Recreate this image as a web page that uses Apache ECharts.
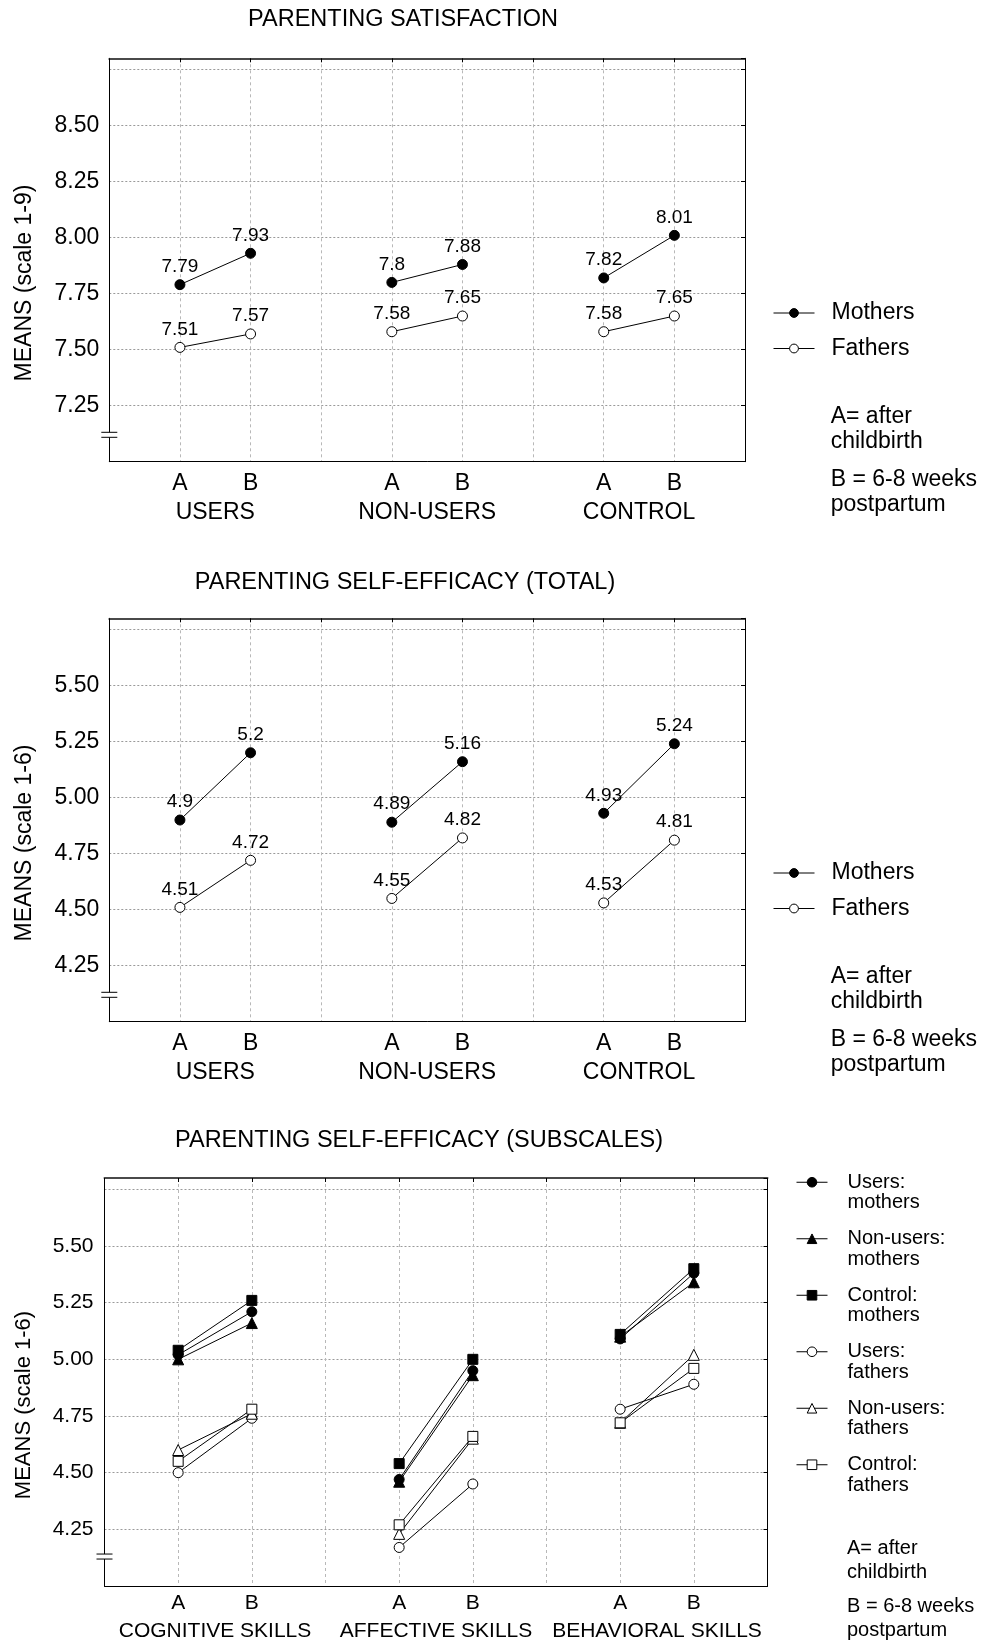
<!DOCTYPE html>
<html>
<head>
<meta charset="utf-8">
<script src="https://cdn.jsdelivr.net/npm/echarts@6/dist/echarts.min.js"></script>
<style>
html,body{margin:0;padding:0;background:#fff;}
#main{width:984px;height:1641px;}
</style>
</head>
<body>
<div id="main"></div>
<script>
// ---------------- DATA ----------------
const xCategories = ['', 'A', 'B', '', 'A', 'B', '', 'A', 'B', ''];
const groupsTop = ['USERS', 'NON-USERS', 'CONTROL'];
const groupsSub = ['COGNITIVE SKILLS', 'AFFECTIVE SKILLS', 'BEHAVIORAL SKILLS'];
const yTickLabelsSat = ['7.25', '7.50', '7.75', '8.00', '8.25', '8.50'];
const yTickLabelsEff = ['4.25', '4.50', '4.75', '5.00', '5.25', '5.50'];
const chartTitles = ['PARENTING SATISFACTION', 'PARENTING SELF-EFFICACY (TOTAL)', 'PARENTING SELF-EFFICACY (SUBSCALES)'];
const yAxisNames = ['MEANS (scale 1-9)', 'MEANS (scale 1-6)', 'MEANS (scale 1-6)'];
const noteA = 'A= after\nchildbirth';
const noteB = 'B = 6-8 weeks\npostpartum';

// values in order: group1 A, group1 B, group2 A, group2 B, group3 A, group3 B
const satMothers = [7.79, 7.93, 7.8, 7.88, 7.82, 8.01];
const satFathers = [7.51, 7.57, 7.58, 7.65, 7.58, 7.65];
const effMothers = [4.9, 5.2, 4.89, 5.16, 4.93, 5.24];
const effFathers = [4.51, 4.72, 4.55, 4.82, 4.53, 4.81];
const subUsersMothers = [5.02, 5.21, 4.47, 4.95, 5.09, 5.38];
const subNonUsersMothers = [5.00, 5.16, 4.46, 4.93, 5.10, 5.34];
const subControlMothers = [5.04, 5.26, 4.54, 5.00, 5.11, 5.40];
const subUsersFathers = [4.50, 4.74, 4.17, 4.45, 4.78, 4.89];
const subNonUsersFathers = [4.60, 4.76, 4.23, 4.65, 4.72, 5.02];
const subControlFathers = [4.55, 4.78, 4.27, 4.66, 4.72, 4.96];

// ---------------- LAYOUT ----------------
const FF = "'Liberation Sans', Arial, Helvetica, sans-serif";
function pad(v) { return [null, v[0], v[1], null, v[2], v[3], null, v[4], v[5], null]; }

const panels = [
  { grid: {left: 109.3, top: 58.3, width: 635.7, height: 403.4}, min: 7, max: 8.8, ticks: yTickLabelsSat,
    groups: groupsTop, tickFont: 23, xFont: 23, aMargin: 10, gMargin: 39, yMargin: 10, nameGap: 73, nameFont: 23,
    breakVal: 7.12, title: [403, 20], notes: [830.7, 404.5, 467.5], noteFont: 23, noteLH: 24.5 },
  { grid: {left: 109.3, top: 618.3, width: 635.7, height: 403.4}, min: 4, max: 5.8, ticks: yTickLabelsEff,
    groups: groupsTop, tickFont: 23, xFont: 23, aMargin: 10, gMargin: 39, yMargin: 10, nameGap: 73, nameFont: 23,
    breakVal: 4.12, title: [405, 583], notes: [830.7, 964.5, 1027.5], noteFont: 23, noteLH: 24.5 },
  { grid: {left: 104.5, top: 1178, width: 663, height: 408}, min: 4, max: 5.8, ticks: yTickLabelsEff,
    groups: groupsSub, tickFont: 21, xFont: 21, aMargin: 7, gMargin: 35, yMargin: 11, nameGap: 70, nameFont: 22,
    breakVal: 4.13, title: [419, 1141], notes: [847, 1536, 1594], noteFont: 20, noteLH: 24.5 }
];

const grids = [], xAxes = [], yAxes = [];
panels.forEach((p, i) => {
  grids.push(Object.assign({containLabel: false, outerBoundsMode: 'none', show: false}, p.grid));
  xAxes.push({
    gridIndex: i, type: 'category', data: xCategories, boundaryGap: false, position: 'bottom',
    axisLine: {show: true, onZero: false, lineStyle: {color: '#000', width: 1}},
    axisTick: {show: false},
    axisLabel: {interval: 0, margin: p.aMargin, fontSize: p.xFont, color: '#000', fontFamily: FF},
    splitLine: {show: true, interval: 0, lineStyle: {color: '#b8b8b8', width: 1, type: [3, 3]}}
  });
  xAxes.push({
    gridIndex: i, type: 'category', data: p.groups, boundaryGap: true, position: 'bottom',
    axisLine: {show: false, onZero: false}, axisTick: {show: false}, splitLine: {show: false},
    axisLabel: {interval: 0, margin: p.gMargin, fontSize: p.xFont, color: '#000', fontFamily: FF}
  });
  xAxes.push({
    gridIndex: i, type: 'category', data: xCategories, boundaryGap: false, position: 'top',
    axisLine: {show: true, onZero: false, lineStyle: {color: '#4a4a4a', width: 2}},
    axisTick: {show: true, inside: true, length: 4, interval: 0, lineStyle: {color: '#000'}},
    axisLabel: {show: false}, splitLine: {show: false}
  });
  yAxes.push({
    gridIndex: i, type: 'value', min: p.min, max: p.max, interval: 0.25, position: 'left',
    name: yAxisNames[i], nameLocation: 'middle', nameGap: p.nameGap, nameRotate: 90,
    nameTextStyle: {fontSize: p.nameFont, color: '#000', fontFamily: FF, padding: [0, 46, 0, 0]},
    axisLine: {show: true, onZero: false, lineStyle: {color: '#000', width: 1}},
    axisTick: {show: false},
    axisLabel: {margin: p.yMargin, fontSize: p.tickFont, color: '#000', fontFamily: FF,
      formatter: v => (p.ticks.indexOf(v.toFixed(2)) >= 0 ? v.toFixed(2) : '')},
    splitLine: {show: true, lineStyle: {color: '#9a9a9a', width: 1, type: [2, 2]}}
  });
  yAxes.push({
    gridIndex: i, type: 'value', min: p.min, max: p.max, interval: 0.25, position: 'right',
    axisLine: {show: true, onZero: false, lineStyle: {color: '#000', width: 1}},
    axisTick: {show: true, inside: true, length: 4, lineStyle: {color: '#000'}},
    axisLabel: {show: false}, splitLine: {show: false}
  });
});

const filled = {color: '#000', borderColor: '#000', borderWidth: 1};
const open = {color: '#fff', borderColor: '#000', borderWidth: 1};
function mkSeries(name, panel, values, symbol, size, style, withLabel) {
  return {
    type: 'line', name: name, xAxisIndex: panel * 3, yAxisIndex: panel * 2,
    data: pad(values), symbol: symbol, symbolSize: size, showSymbol: true,
    connectNulls: false, itemStyle: style, lineStyle: {color: '#000', width: 1},
    label: withLabel ? {show: true, position: 'top', distance: 3, fontSize: 19, color: '#000', fontFamily: FF} : {show: false},
    emphasis: {disabled: true}, silent: true, animation: false
  };
}

const series = [
  mkSeries('Mothers', 0, satMothers, 'circle', 10, filled, true),
  mkSeries('Fathers', 0, satFathers, 'circle', 10, open, true),
  mkSeries('Mothers', 1, effMothers, 'circle', 10, filled, true),
  mkSeries('Fathers', 1, effFathers, 'circle', 10, open, true),
  mkSeries('Users:\nmothers', 2, subUsersMothers, 'circle', 10, filled, false),
  mkSeries('Non-users:\nmothers', 2, subNonUsersMothers, 'triangle', 11, filled, false),
  mkSeries('Control:\nmothers', 2, subControlMothers, 'rect', 10, filled, false),
  mkSeries('Users:\nfathers', 2, subUsersFathers, 'circle', 10, open, false),
  mkSeries('Non-users:\nfathers', 2, subNonUsersFathers, 'triangle', 11, open, false),
  mkSeries('Control:\nfathers', 2, subControlFathers, 'rect', 10, open, false)
];

const legendBase = {orient: 'vertical', padding: 0, selectedMode: false,
  itemStyle: {borderWidth: 1}, lineStyle: {width: 1}};
const legends = [
  Object.assign({}, legendBase, {data: ['Mothers', 'Fathers'], left: 773, top: 301.5, itemWidth: 41, itemHeight: 11, itemGap: 12.5,
    textStyle: {fontSize: 23, lineHeight: 23, color: '#000', fontFamily: FF, padding: [0, 0, 0, 12]}}),
  Object.assign({}, legendBase, {data: ['Mothers', 'Fathers'], left: 773, top: 861.5, itemWidth: 41, itemHeight: 11, itemGap: 12.5,
    textStyle: {fontSize: 23, lineHeight: 23, color: '#000', fontFamily: FF, padding: [0, 0, 0, 12]}}),
  Object.assign({}, legendBase, {data: ['Users:\nmothers', 'Non-users:\nmothers', 'Control:\nmothers', 'Users:\nfathers', 'Non-users:\nfathers', 'Control:\nfathers'],
    left: 796, top: 1151.5, itemWidth: 31, itemHeight: 12, itemGap: -5,
    formatter: name => '\n' + name,
    textStyle: {fontSize: 20, lineHeight: 20.5, color: '#000', fontFamily: FF, padding: [0, 0, 0, 15]}})
];

const chart = echarts.init(document.getElementById('main'), null, {renderer: 'canvas'});
chart.setOption({
  animation: false,
  backgroundColor: '#fff',
  textStyle: {fontFamily: FF},
  grid: grids, xAxis: xAxes, yAxis: yAxes, legend: legends, series: series
});

// decorations: titles, notes, axis break marks
const gfx = [];
panels.forEach((p, i) => {
  gfx.push({type: 'text', x: p.title[0], y: p.title[1], z: 10,
    style: {text: chartTitles[i], fill: '#000', fontSize: 23.5, fontFamily: FF, align: 'center', verticalAlign: 'middle'}});
  gfx.push({type: 'text', x: p.notes[0], y: p.notes[1], z: 10,
    style: {text: noteA, fill: '#000', fontSize: p.noteFont, lineHeight: p.noteLH, fontFamily: FF, align: 'left', verticalAlign: 'top'}});
  gfx.push({type: 'text', x: p.notes[0], y: p.notes[2], z: 10,
    style: {text: noteB, fill: '#000', fontSize: p.noteFont, lineHeight: p.noteLH, fontFamily: FF, align: 'left', verticalAlign: 'top'}});
  const by = chart.convertToPixel({yAxisIndex: i * 2}, p.breakVal);
  const bx = p.grid.left;
  gfx.push({type: 'rect', z: 20, shape: {x: bx - 2, y: by - 2.5, width: 4, height: 5}, style: {fill: '#fff'}});
  gfx.push({type: 'line', z: 21, shape: {x1: bx - 8, y1: by - 2.5, x2: bx + 8, y2: by - 2.5}, style: {stroke: '#000', lineWidth: 1}});
  gfx.push({type: 'line', z: 21, shape: {x1: bx - 8, y1: by + 2.5, x2: bx + 8, y2: by + 2.5}, style: {stroke: '#000', lineWidth: 1}});
});
chart.setOption({graphic: gfx});
</script>
</body>
</html>
